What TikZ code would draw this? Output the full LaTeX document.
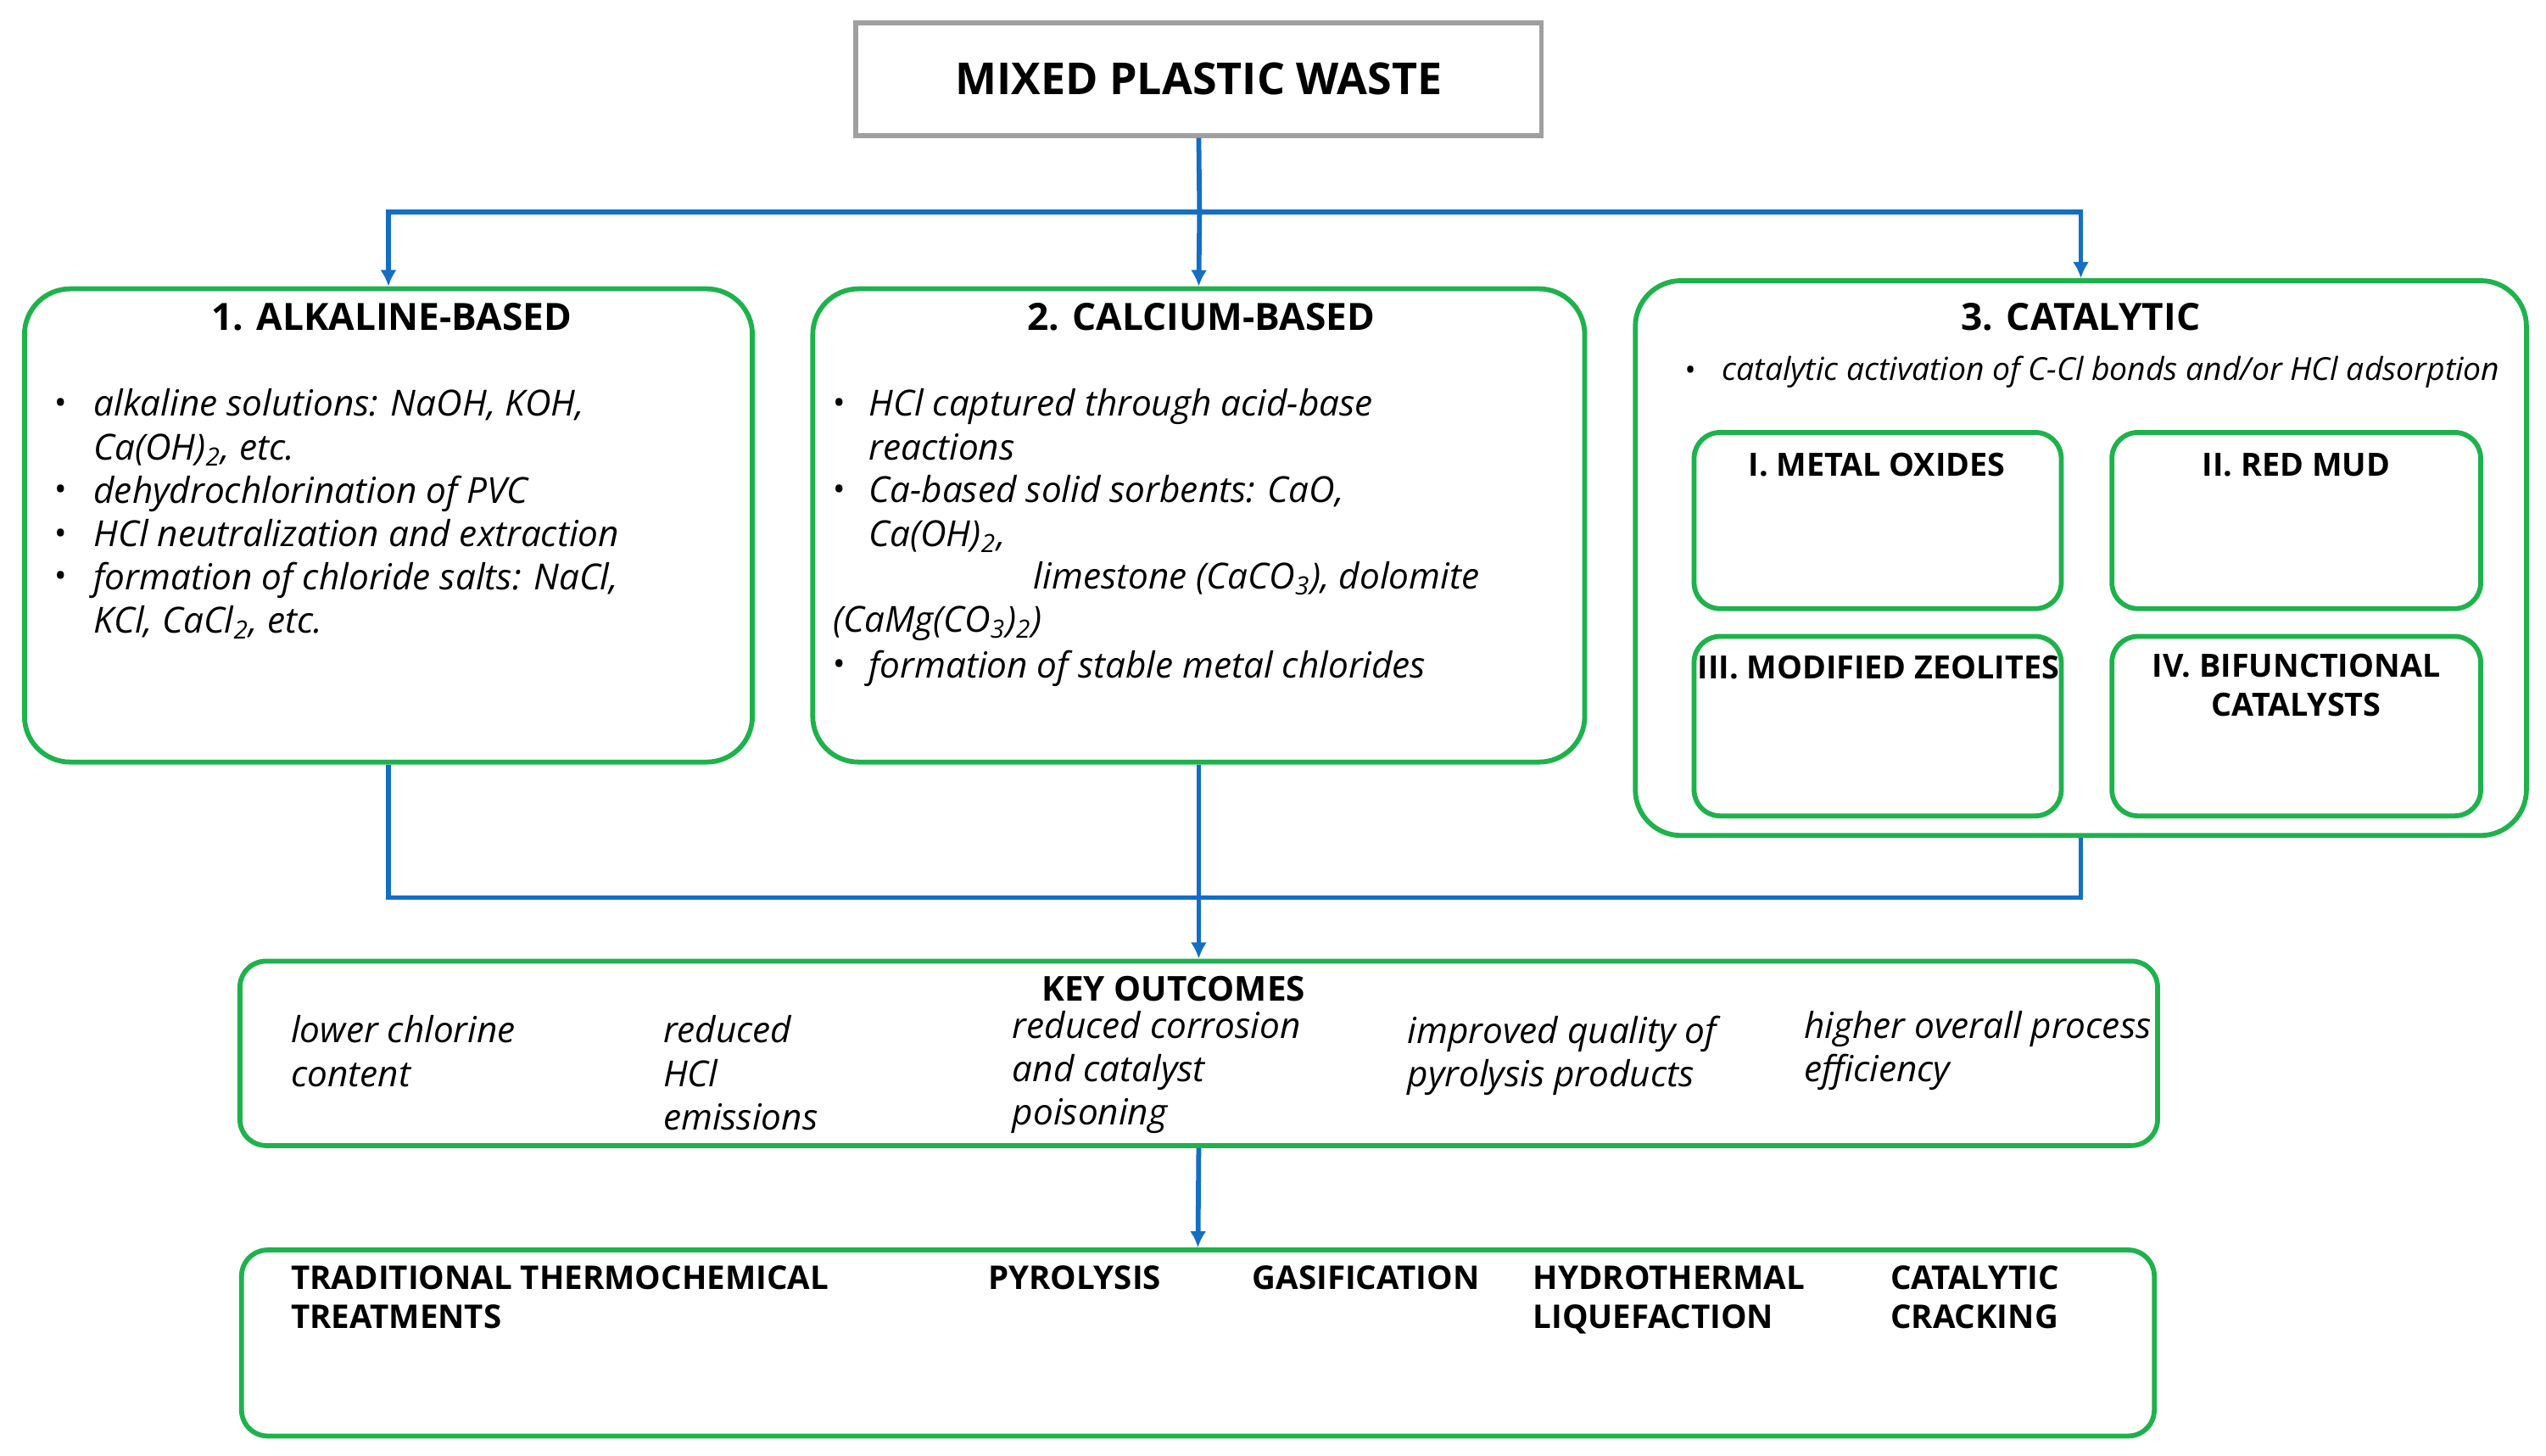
\documentclass[tikz,border=0pt]{standalone}
\usepackage{fontspec}
\setmainfont{Open Sans}
\usetikzlibrary{arrows.meta}
\begin{document}
\begin{tikzpicture}[x=0.5pt,y=-0.5pt,
  gbox/.style={draw=grn,line width=1.5pt,rounded corners=14pt},
  ibox/.style={draw=grn,line width=1.5pt,rounded corners=8pt},
  conn/.style={draw=blu,line width=1.5pt},
  arr/.style={conn,-{Latex[length=5pt,width=5pt]}},
  ttl/.style={font=\fontsize{11.5}{13}\selectfont\bfseries,inner sep=0pt},
  ittl/.style={font=\fontsize{9.8}{12}\selectfont\bfseries,inner sep=0pt},
  txt/.style={font=\fontsize{11}{13.3}\selectfont\itshape,inner sep=0pt,anchor=north west,align=left},
  btxt/.style={font=\fontsize{10}{12}\selectfont\bfseries,inner sep=0pt,anchor=north west,align=left},
  bul/.style={font=\fontsize{10}{12}\selectfont,inner sep=0pt,anchor=base west}]
\definecolor{grn}{RGB}{30,178,76}
\definecolor{blu}{RGB}{20,110,195}
\path[use as bounding box,fill=white] (0,0) rectangle (1560,892);
% top
\node[draw=gray!75,line width=1.5pt,minimum width=210pt,minimum height=34.5pt,font=\fontsize{13.5}{15}\selectfont\bfseries] (top) at (734.5,48.5) {MIXED PLASTIC WASTE};
\coordinate (j1) at (735,130);
\draw[conn] (top.south) -- (j1);
% boxes
\node[gbox,minimum width=223pt,minimum height=145pt] (b1) at (238,322) {};
\node[gbox,minimum width=236.5pt,minimum height=145pt] (b2) at (734.5,322) {};
\node[gbox,minimum width=273pt,minimum height=170pt] (b3) at (1275,342) {};
\draw[arr] (j1) -| (b1.north);
\draw[arr] (j1) -- (b2.north);
\draw[arr] (j1) -| (b3.north);
\node[ttl] at (240,194) {1. ALKALINE-BASED};
\node[ttl] at (736,194) {2. CALCIUM-BASED};
\node[ttl] at (1275,194) {3. CATALYTIC};
% box1 text
\foreach \y in {254,307,334,360} \node[bul] at (33,\y) {•};
\node[txt] at (57,238) {alkaline solutions: NaOH, KOH,\\Ca(OH)\textsubscript{2}, etc.};
\node[txt] at (57,291) {dehydrochlorination of PVC};
\node[txt] at (57,318) {HCl neutralization and extraction};
\node[txt] at (57,344) {formation of chloride salts: NaCl,\\KCl, CaCl\textsubscript{2}, etc.};
% box2 text
\foreach \y in {254,307,414} \node[bul] at (510,\y) {•};
\node[txt] at (532,238) {HCl captured through acid-base\\reactions};
\node[txt] at (532,291) {Ca-based solid sorbents: CaO,\\Ca(OH)\textsubscript{2},};
\node[txt] at (633,344) {limestone (CaCO\textsubscript{3}), dolomite};
\node[txt] at (510,371) {(CaMg(CO\textsubscript{3})\textsubscript{2})};
\node[txt] at (532,398) {formation of stable metal chlorides};
% box3
\node[bul,font=\fontsize{9}{10}\selectfont] at (1032,233) {•};
\node[txt,anchor=base west,font=\fontsize{9.7}{10}\selectfont\itshape] at (1055,233) {catalytic activation of C-Cl bonds and/or HCl adsorption};
\node[ibox,minimum width=112.5pt,minimum height=54pt] (m1) at (1150.5,319) {};
\node[ibox,minimum width=113pt,minimum height=54pt] (m2) at (1407,319) {};
\node[ibox,minimum width=112.5pt,minimum height=55pt] (m3) at (1150.5,445) {};
\node[ibox,minimum width=113pt,minimum height=55pt] (m4) at (1407,445) {};
\node[ittl] at (1150,285) {I. METAL OXIDES};
\node[ittl] at (1407,285) {II. RED MUD};
\node[ittl] at (1151,409) {III. MODIFIED ZEOLITES};
\node[ittl,align=center] at (1407,420) {IV. BIFUNCTIONAL\\CATALYSTS};
% key outcomes
\node[gbox,rounded corners=8pt,minimum width=587.5pt,minimum height=56.5pt] (ko) at (734.5,645.5) {};
\coordinate (j2) at (735,550);
\draw[conn] (b1.south) |- (j2);
\draw[conn] (b3.south) |- (j2);
\draw[arr] (b2.south) -- (ko.north);
\node[ttl,font=\fontsize{10.5}{12}\selectfont\bfseries] at (719,606) {KEY OUTCOMES};
\node[txt] at (178,622) {lower chlorine\\content};
\node[txt] at (406,622) {reduced\\HCl\\emissions};
\node[txt] at (620,619) {reduced corrosion\\and catalyst\\poisoning};
\node[txt] at (862,622) {improved quality of\\pyrolysis products};
\node[txt] at (1105,619) {higher overall process\\efficiency};
% bottom
\node[gbox,rounded corners=8pt,minimum width=586pt,minimum height=57pt] (bt) at (734,823) {};
\draw[arr] (ko.south) -- (bt.north);
\node[btxt] at (178,775) {TRADITIONAL THERMOCHEMICAL\\TREATMENTS};
\node[btxt] at (605,775) {PYROLYSIS};
\node[btxt] at (767,775) {GASIFICATION};
\node[btxt] at (939,775) {HYDROTHERMAL\\LIQUEFACTION};
\node[btxt] at (1158,775) {CATALYTIC\\CRACKING};
\end{tikzpicture}
\end{document}
